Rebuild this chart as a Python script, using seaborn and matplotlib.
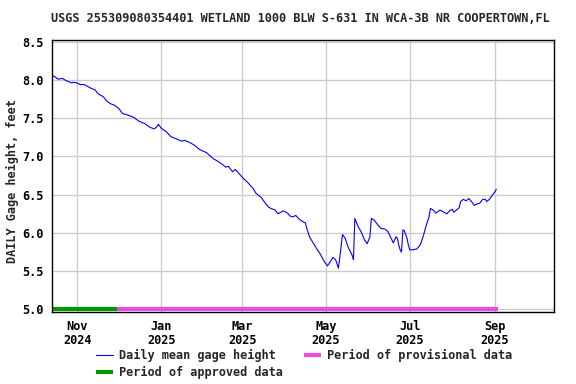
# Gage height chart for USGS wetland site, one water year
import matplotlib
matplotlib.use('Agg')
import matplotlib.pyplot as plt
import matplotlib.dates as mdates
import seaborn as sns
import pandas as pd

TITLE = 'USGS 255309080354401 WETLAND 1000 BLW S-631 IN WCA-3B NR COOPERTOWN,FL'

# Daily mean gage height (feet)
dates = [
    '2024-10-13', '2024-10-15', '2024-10-18', '2024-10-21', '2024-10-24',
    '2024-10-28', '2024-10-29', '2024-11-01', '2024-11-03', '2024-11-06',
    '2024-11-08', '2024-11-11', '2024-11-14', '2024-11-16', '2024-11-20',
    '2024-11-22', '2024-11-25', '2024-11-28', '2024-12-01', '2024-12-04',
    '2024-12-08', '2024-12-12', '2024-12-16', '2024-12-20', '2024-12-24',
    '2024-12-27', '2024-12-29', '2024-12-30', '2025-01-01', '2025-01-05',
    '2025-01-08', '2025-01-12', '2025-01-16', '2025-01-18', '2025-01-21',
    '2025-01-25', '2025-01-29', '2025-02-03', '2025-02-08', '2025-02-11',
    '2025-02-15', '2025-02-17', '2025-02-19', '2025-02-22', '2025-02-24',
    '2025-02-27', '2025-03-02', '2025-03-05', '2025-03-09', '2025-03-11',
    '2025-03-15', '2025-03-17', '2025-03-20', '2025-03-22', '2025-03-25',
    '2025-03-27', '2025-03-28', '2025-03-31', '2025-04-03', '2025-04-05',
    '2025-04-07', '2025-04-09', '2025-04-11', '2025-04-13', '2025-04-16',
    '2025-04-17', '2025-04-19', '2025-04-22', '2025-04-24', '2025-04-27',
    '2025-04-29', '2025-05-02', '2025-05-04', '2025-05-06', '2025-05-08',
    '2025-05-09', '2025-05-10', '2025-05-11', '2025-05-13', '2025-05-15',
    '2025-05-17', '2025-05-20', '2025-05-21', '2025-05-22', '2025-05-24',
    '2025-05-27', '2025-05-29', '2025-05-31', '2025-06-02', '2025-06-03',
    '2025-06-05', '2025-06-08', '2025-06-10', '2025-06-13', '2025-06-15',
    '2025-06-18', '2025-06-19', '2025-06-21', '2025-06-22', '2025-06-23',
    '2025-06-24', '2025-06-25', '2025-06-26', '2025-06-27', '2025-06-29',
    '2025-06-30', '2025-07-01', '2025-07-03', '2025-07-06', '2025-07-08',
    '2025-07-09', '2025-07-11', '2025-07-13', '2025-07-15', '2025-07-16',
    '2025-07-18', '2025-07-20', '2025-07-23', '2025-07-25', '2025-07-28',
    '2025-07-30', '2025-08-01', '2025-08-02', '2025-08-04', '2025-08-06',
    '2025-08-07', '2025-08-09', '2025-08-11', '2025-08-13', '2025-08-15',
    '2025-08-17', '2025-08-19', '2025-08-21', '2025-08-23', '2025-08-25',
    '2025-08-26', '2025-08-28', '2025-08-30', '2025-09-01', '2025-09-02',
]
gage_height = [
    8.04, 8.05, 8.01, 8.02, 7.99,
    7.96, 7.97, 7.96, 7.94, 7.94,
    7.92, 7.89, 7.87, 7.82, 7.78,
    7.73, 7.69, 7.67, 7.63, 7.56,
    7.54, 7.51, 7.46, 7.43, 7.38,
    7.36, 7.39, 7.42, 7.37, 7.32,
    7.26, 7.23, 7.20, 7.21, 7.19,
    7.15, 7.09, 7.05, 6.97, 6.94,
    6.89, 6.86, 6.87, 6.80, 6.83,
    6.77, 6.71, 6.66, 6.58, 6.52,
    6.46, 6.41, 6.34, 6.32, 6.30,
    6.25, 6.26, 6.29, 6.26, 6.22,
    6.21, 6.23, 6.19, 6.16, 6.13,
    6.06, 5.95, 5.86, 5.80, 5.72,
    5.65, 5.57, 5.62, 5.68, 5.65,
    5.60, 5.54, 5.67, 5.98, 5.93,
    5.82, 5.71, 5.65, 6.19, 6.10,
    6.00, 5.91, 5.86, 5.95, 6.19,
    6.17, 6.10, 6.06, 6.05, 6.02,
    5.91, 5.87, 5.95, 5.93, 5.84,
    5.78, 5.75, 6.04, 6.03, 5.93,
    5.84, 5.78, 5.78, 5.79, 5.83,
    5.86, 5.97, 6.10, 6.21, 6.32,
    6.30, 6.26, 6.30, 6.28, 6.25,
    6.29, 6.31, 6.27, 6.30, 6.33,
    6.41, 6.44, 6.42, 6.45, 6.41,
    6.36, 6.38, 6.39, 6.44, 6.44,
    6.41, 6.44, 6.49, 6.54, 6.57,
]

# Approval periods (drawn along the bottom of the plot)
approved_period = ['2024-10-13', '2024-11-30']
provisional_period = ['2024-11-30', '2025-09-03']

x_range = ['2024-10-13 08:00', '2025-10-14 00:00']
y_range = [4.967, 8.522]
y_ticks = [5.0, 5.5, 6.0, 6.5, 7.0, 7.5, 8.0, 8.5]
x_ticks = ['2024-11-01', '2025-01-01', '2025-03-01', '2025-05-01', '2025-07-01', '2025-09-01']

sns.set_style('white')
plt.rcParams['font.family'] = ['DejaVu Sans Mono']
plt.rcParams['font.weight'] = 'bold'
plt.rcParams['font.size'] = 8.6

df = pd.DataFrame({'date': pd.to_datetime(dates), 'height': gage_height})

fig = plt.figure(figsize=(5.76, 3.84), dpi=100)
ax = fig.add_axes([0.0898, 0.1875, 0.8720, 0.7083])

ax.grid(True, color='#cccccc', linewidth=1.0)
ax.set_axisbelow(True)

sns.lineplot(data=df, x='date', y='height', ax=ax, color='#0000ff',
             linewidth=0.8, label='Daily mean gage height', legend=False)
base = y_ticks[0]
ax.plot(pd.to_datetime(provisional_period), [base, base], color='#ee4ae2',
        linewidth=3.0, solid_capstyle='butt', label='Period of provisional data')
ax.plot(pd.to_datetime(approved_period), [base, base], color='#009900',
        linewidth=3.0, solid_capstyle='butt', label='Period of approved data')

ax.set_xlim(pd.to_datetime(x_range))
ax.set_ylim(y_range)
ax.set_yticks(y_ticks)
ax.set_yticklabels(['%.1f' % t for t in y_ticks])
ax.set_xticks(pd.to_datetime(x_ticks))
ax.xaxis.set_major_formatter(mdates.DateFormatter('%b\n%Y'))
ax.tick_params(length=0, pad=6, colors='black', labelsize=8.6)
for label in ax.get_xticklabels():
    label.set_linespacing(1.1)

for side in ax.spines.values():
    side.set_color('black')
    side.set_linewidth(1.0)

ax.set_xlabel('')
ax.set_ylabel('DAILY Gage height, feet', fontsize=8.6, fontweight='bold',
              va='center')
ax.yaxis.set_label_coords(-0.079, 0.482)
ax.set_title(TITLE, pad=13, fontsize=8.6, fontweight='bold', x=0.495)

handles, labels = ax.get_legend_handles_labels()
order = [0, 2, 1]  # daily, approved, provisional -> two columns
fig.legend([handles[i] for i in order], [labels[i] for i in order],
           ncol=2, loc='center', bbox_to_anchor=(0.528, 0.052), frameon=False,
           handlelength=1.4, handletextpad=0.5, columnspacing=1.8,
           labelspacing=0.35, borderpad=0.0)

fig.savefig('out.png', dpi=100)
